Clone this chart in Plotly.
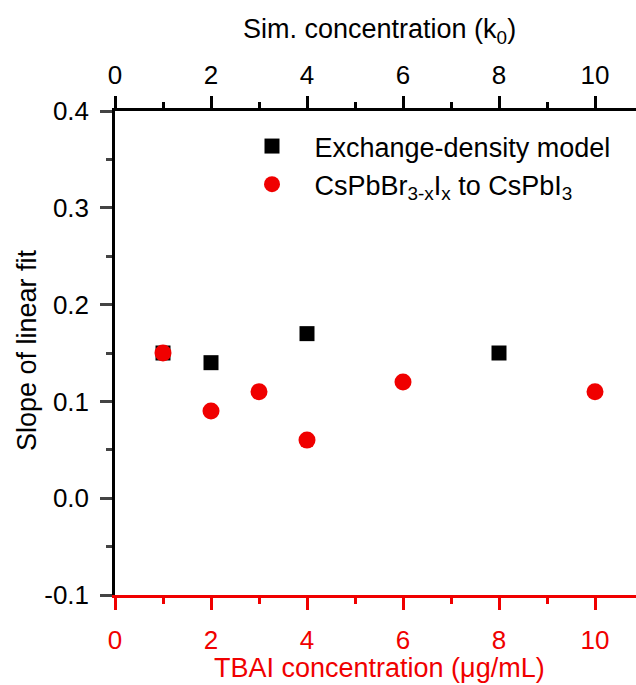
import plotly.graph_objects as go

# Data
sim_conc = [1, 2, 4, 8]
sim_slope = [0.15, 0.14, 0.17, 0.15]
tbai_conc = [1, 2, 3, 4, 6, 10]
tbai_slope = [0.15, 0.09, 0.11, 0.06, 0.12, 0.11]

x_ticks = [0, 2, 4, 6, 8, 10]
y_ticks = [-0.1, 0.0, 0.1, 0.2, 0.3, 0.4]
y_ticklabels = ["-0.1", "0.0", "0.1", "0.2", "0.3", "0.4"]

RED = "#f00000"
FONT = "Liberation Sans, Arial, sans-serif"
NB = "\u00a0" * 3

fig = go.Figure()
fig.add_trace(go.Scatter(
    x=sim_conc, y=sim_slope, mode="markers", name=NB + "Exchange-density model",
    marker=dict(symbol="square", size=15, color="black"), xaxis="x", yaxis="y"))
fig.add_trace(go.Scatter(
    x=tbai_conc, y=tbai_slope, mode="markers",
    name=NB + "CsPbBr<sub>3-x</sub>I<sub>x</sub> to CsPbI<sub>3</sub>",
    marker=dict(symbol="circle", size=17, color=RED), xaxis="x", yaxis="y"))
# empty trace to activate the top axis
fig.add_trace(go.Scatter(x=[], y=[], xaxis="x2", yaxis="y", showlegend=False, hoverinfo="skip"))

xr = [0, (636 - 115) / 48.0]
common_x = dict(range=xr, tickvals=x_ticks, ticks="outside", ticklen=12, tickwidth=2.5,
                showline=True, linewidth=2.5, showgrid=False, zeroline=False,
                minor=dict(dtick=1, ticks="outside", ticklen=6, tickwidth=2.5, showgrid=False),
                tickfont=dict(size=26, family=FONT))

fig.update_layout(
    width=636, height=685,
    margin=dict(l=115, r=0, t=111, b=90),
    plot_bgcolor="white", paper_bgcolor="white",
    font=dict(family=FONT, size=26, color="black"),
    showlegend=True,
    legend=dict(x=(252 - 115) / 521.0, y=1 - (122 - 111) / 484.0, xanchor="left", yanchor="top",
                bgcolor="rgba(0,0,0,0)", font=dict(size=27, family=FONT), itemsizing="trace",
                tracegroupgap=0),
    xaxis=dict(**common_x, color=RED, linecolor=RED, tickcolor=RED, side="bottom",
               ticklabelstandoff=8),
    xaxis2=dict(**common_x, color="black", linecolor="black", tickcolor="black",
                side="top", overlaying="x", anchor="y", ticklabelstandoff=2),
    yaxis=dict(range=[-0.1, 0.4], tickvals=y_ticks, ticktext=y_ticklabels,
               ticks="outside", ticklen=12, tickwidth=2.5, showline=True, linewidth=2.5,
               linecolor="black", showgrid=False, zeroline=False,
               minor=dict(dtick=0.05, ticks="outside", ticklen=6, tickwidth=2.5, showgrid=False),
               tickfont=dict(size=26, family=FONT), ticklabelstandoff=6),
    annotations=[
        dict(text="Sim. concentration (k<sub>0</sub>)", xref="x", yref="paper", x=5.5, y=1,
             yshift=80, showarrow=False, font=dict(size=27, family=FONT, color="black"),
             xanchor="center", yanchor="middle"),
        dict(text="TBAI concentration (μg/mL)", xref="x", yref="paper", x=5.5, y=0,
             yshift=-73, showarrow=False, font=dict(size=27, family=FONT, color=RED),
             xanchor="center", yanchor="middle"),
        dict(text="Slope of linear fit", xref="paper", yref="paper", x=(27 - 115) / 521.0,
             y=0.5, yshift=3, textangle=-90, showarrow=False,
             font=dict(size=27, family=FONT, color="black"), xanchor="center", yanchor="middle"),
    ],
)

fig.write_html("out.html")
